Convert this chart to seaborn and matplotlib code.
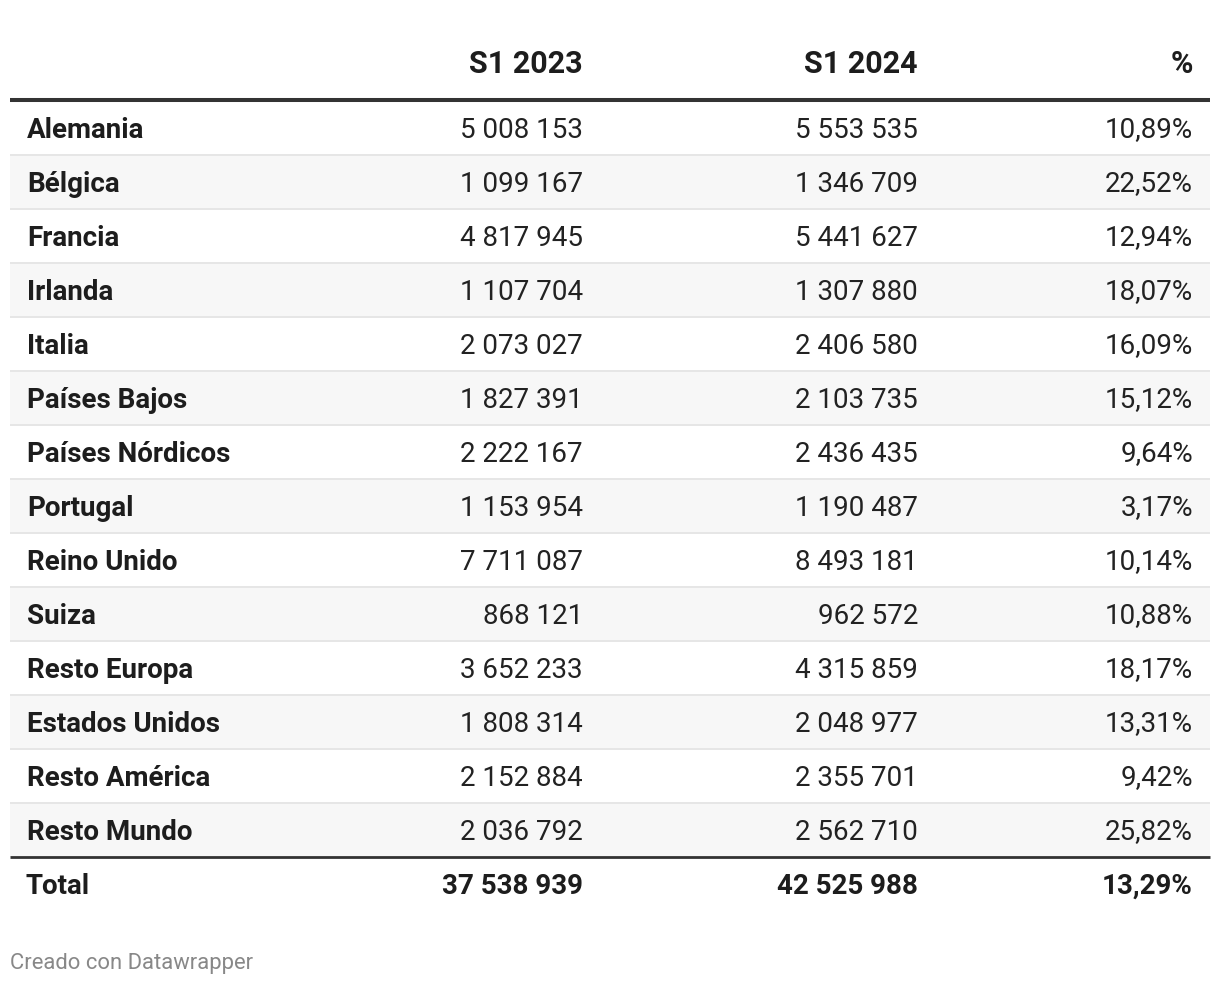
import matplotlib
matplotlib.use("Agg")
import matplotlib.pyplot as plt
import seaborn as sns

# ---- data ----
countries = ["Alemania", "Bélgica", "Francia", "Irlanda", "Italia", "Países Bajos",
             "Países Nórdicos", "Portugal", "Reino Unido", "Suiza", "Resto Europa",
             "Estados Unidos", "Resto América", "Resto Mundo"]
s1_2023 = [5008153, 1099167, 4817945, 1107704, 2073027, 1827391, 2222167,
           1153954, 7711087, 868121, 3652233, 1808314, 2152884, 2036792]
s1_2024 = [5553535, 1346709, 5441627, 1307880, 2406580, 2103735, 2436435,
           1190487, 8493181, 962572, 4315859, 2048977, 2355701, 2562710]
pct = [10.89, 22.52, 12.94, 18.07, 16.09, 15.12, 9.64, 3.17, 10.14, 10.88,
       18.17, 13.31, 9.42, 25.82]
total_label = "Total"
total_2023 = 37538939
total_2024 = 42525988
total_pct = 13.29
headers = ["", "S1 2023", "S1 2024", "%"]
footer = "Creado con Datawrapper"

sns.set_theme(style="white")
plt.rcParams["font.family"] = ["Roboto", "DejaVu Sans"]

W, H = 1220, 986
fig = plt.figure(figsize=(W / 100, H / 100), dpi=100)
ax = fig.add_axes([0, 0, 1, 1])
ax.set_xlim(0, W)
ax.set_ylim(H, 0)
ax.axis("off")

def fmt_int(v):
    return f"{v:,}".replace(",", " ")

def fmt_pct(v):
    return f"{v:.2f}".replace(".", ",") + "%"

left, right = 10, 1210
x_name = 27
x_cols = [583, 918, 1193]
row_h = 54
top = 101
fs = 20
txt = "#1d1d1d"
dy = 2  # text baseline offset

# header
for x, h in zip(x_cols, headers[1:]):
    ax.text(x, 64, h, ha="right", va="center", fontsize=22, fontweight="bold", color=txt)
ax.plot([left, right], [100, 100], color="#333333", lw=2.9, solid_capstyle="butt")

for i, name in enumerate(countries):
    y0 = top + i * row_h
    yc = y0 + row_h / 2 + dy
    if i % 2 == 1:
        ax.fill_between([left, right], y0, y0 + row_h, color="#f7f7f7", lw=0)
    if i < len(countries) - 1:
        ax.plot([left, right], [y0 + row_h, y0 + row_h], color="#e6e6e6", lw=1.4,
                solid_capstyle="butt")
    ax.text(x_name, yc, name, ha="left", va="center", fontsize=fs, fontweight="bold", color=txt)
    vals = [fmt_int(s1_2023[i]), fmt_int(s1_2024[i]), fmt_pct(pct[i])]
    for x, v in zip(x_cols, vals):
        ax.text(x, yc, v, ha="right", va="center", fontsize=fs, color="#222222")

yb = top + len(countries) * row_h
ax.plot([left, right], [yb, yb], color="#333333", lw=2.0, solid_capstyle="butt")
yc = yb + 27 + dy
ax.text(x_name - 1, yc, total_label, ha="left", va="center", fontsize=fs, fontweight="bold", color=txt)
for x, v in zip(x_cols, [fmt_int(total_2023), fmt_int(total_2024), fmt_pct(total_pct)]):
    ax.text(x, yc, v, ha="right", va="center", fontsize=fs, fontweight="bold", color=txt)

ax.text(10, 964, footer, ha="left", va="center", fontsize=15.8, color="#888888")

fig.savefig("out.png", dpi=100, facecolor="white")
